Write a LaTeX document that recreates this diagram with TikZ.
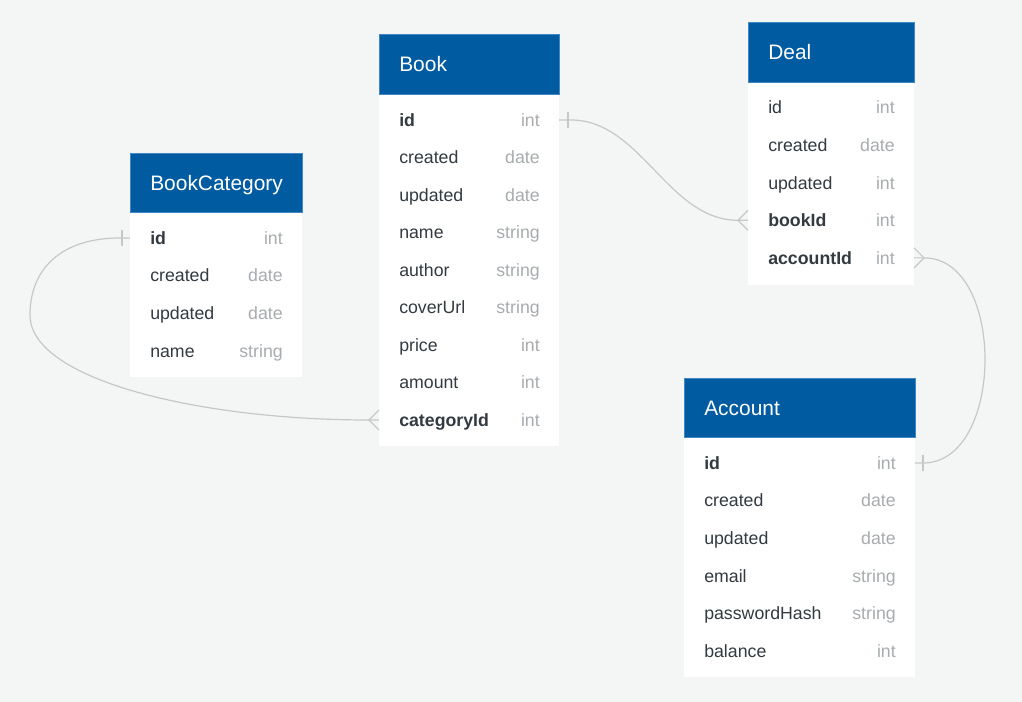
\documentclass[tikz,border=0pt]{standalone}
\usepackage{fontspec}
\setmainfont{Liberation Sans}
\usetikzlibrary{calc}

\definecolor{canvas}{HTML}{F4F6F6}
\definecolor{headblue}{HTML}{005BA1}
\definecolor{headedge}{HTML}{3F88C5}
\definecolor{fieldtxt}{HTML}{333A40}
\definecolor{typetxt}{HTML}{A8ACAF}
\definecolor{linkgray}{HTML}{C6C8C8}

\tikzset{
  head/.style={fill=headblue,draw=headedge,line width=0.6pt},
  title/.style={anchor=west,text=white,inner sep=0pt,text height=11.2pt,text depth=0pt,
    font=\fontsize{15.7}{18}\selectfont},
  fname/.style={anchor=west,text=fieldtxt,inner sep=0pt,text height=9.5pt,text depth=0pt,
    font=\fontsize{13.3}{16}\selectfont},
  ftype/.style={fname,anchor=east,text=typetxt},
  link/.style={draw=linkgray,line width=0.9pt},
}

\begin{document}
\begin{tikzpicture}[x=0.75pt,y=-0.75pt]
\fill[canvas] (0,0) rectangle (1022,702);

% BookCategory
\fill[white] (130,153) rectangle (302,377);
\draw[head] (130,153) rectangle (302,212);
\node[title] (bookcat) at (150,183) {BookCategory};
\coordinate (bookcat-l) at (130,153);
\coordinate (bookcat-r) at (302,153);
\foreach \f/\t [count=\i from 0] in {{\textbf{id}}/int,created/date,updated/date,name/string}{
  \node[fname] (bookcat-\i) at (150,{238+37.6*\i}) {\f};
  \node[ftype] at (283,{238+37.6*\i}) {\t};
}

% Book
\fill[white] (379,34) rectangle (559,446);
\draw[head] (379,34) rectangle (559,94);
\node[title] (book) at (399,64) {Book};
\coordinate (book-l) at (379,34);
\coordinate (book-r) at (559,34);
\foreach \f/\t [count=\i from 0] in {{\textbf{id}}/int,created/date,updated/date,name/string,
    author/string,coverUrl/string,price/int,amount/int,{\textbf{categoryId}}/int}{
  \node[fname] (book-\i) at (399,{120+37.5*\i}) {\f};
  \node[ftype] at (540,{120+37.5*\i}) {\t};
}

% Deal
\fill[white] (748,22) rectangle (914,285);
\draw[head] (748,22) rectangle (914,82);
\node[title] (deal) at (768,52) {Deal};
\coordinate (deal-l) at (748,22);
\coordinate (deal-r) at (914,22);
\foreach \f/\t [count=\i from 0] in {id/int,created/date,updated/int,
    {\textbf{bookId}}/int,{\textbf{accountId}}/int}{
  \node[fname] (deal-\i) at (768,{107.5+37.6*\i}) {\f};
  \node[ftype] at (895,{107.5+37.6*\i}) {\t};
}

% Account
\fill[white] (684,378) rectangle (915,677);
\draw[head] (684,378) rectangle (915,437);
\node[title] (account) at (704,408) {Account};
\coordinate (account-l) at (684,378);
\coordinate (account-r) at (915,378);
\foreach \f/\t [count=\i from 0] in {{\textbf{id}}/int,created/date,updated/date,
    email/string,passwordHash/string,balance/int}{
  \node[fname] (account-\i) at (704,{463+37.6*\i}) {\f};
  \node[ftype] at (896,{463+37.6*\i}) {\t};
}

% Book.id -> Deal.bookId
\coordinate (j1) at ($(deal-l |- deal-3)+(-10,0)$);
\draw[link] (book-r |- book-0) -- ++(12,0) .. controls +(70,0) and ($(j1)+(-70,0)$) .. (j1)
  -- (deal-l |- deal-3);
\draw[link] ($(book-r |- book-0)+(9,-8)$) -- ++(0,16);
\draw[link] ($(deal-l |- deal-3)+(0,-10)$) -- (j1) -- ($(deal-l |- deal-3)+(0,10)$);

% Deal.accountId -> Account.id
\coordinate (j2) at ($(deal-r |- deal-4)+(10,0)$);
\draw[link] (deal-r |- deal-4) -- (j2) .. controls +(82,0) and ($(account-r |- account-0)+(90,0)$)
  .. ($(account-r |- account-0)+(8,0)$) -- (account-r |- account-0);
\draw[link] ($(deal-r |- deal-4)+(0,-10)$) -- (j2) -- ($(deal-r |- deal-4)+(0,10)$);
\draw[link] ($(account-r |- account-0)+(8,-8)$) -- ++(0,16);

% BookCategory.id -> Book.categoryId
\coordinate (j3) at ($(book-l |- book-8)+(-10,0)$);
\coordinate (bend) at (30,315);
\draw[link] (bookcat-l |- bookcat-0) -- ++(-10,0) .. controls (60,238) and (30,270) .. (bend)
  .. controls (30,380) and (200,420) .. (j3) -- (book-l |- book-8);
\draw[link] ($(bookcat-l |- bookcat-0)+(-8,-8)$) -- ++(0,16);
\draw[link] ($(book-l |- book-8)+(0,-10)$) -- (j3) -- ($(book-l |- book-8)+(0,10)$);
\end{tikzpicture}
\end{document}
